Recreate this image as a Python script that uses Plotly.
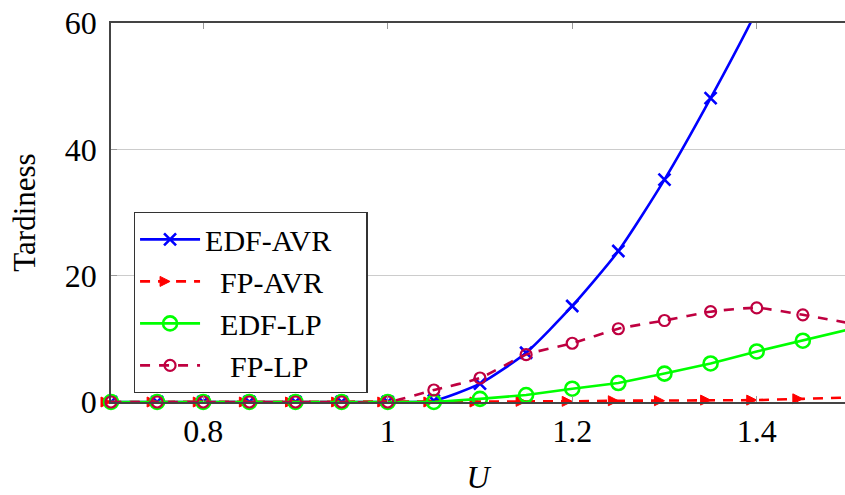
import plotly.graph_objects as go

# Utilization levels
U = [0.70, 0.75, 0.80, 0.85, 0.90, 0.95, 1.00, 1.05, 1.10,
     1.15, 1.20, 1.25, 1.30, 1.35, 1.40, 1.45, 1.50]

# Tardiness per scheduling policy
edf_avr = [0, 0, 0, 0, 0, 0, 0, 0.2, 2.9, 7.8, 15.2, 23.9, 35.2, 48.1, 62.0, 78.0, 95.0]
fp_avr = [0, 0, 0, 0, 0, 0, 0, 0, 0, 0.1, 0.1, 0.2, 0.2, 0.3, 0.3, 0.5, 0.7]
edf_lp = [0, 0, 0, 0, 0, 0, 0, 0, 0.5, 1.1, 2.1, 3.0, 4.5, 6.1, 8.0, 9.7, 11.5]
fp_lp = [0, 0, 0, 0, 0, 0, 0, 1.9, 3.8, 7.5, 9.3, 11.6, 12.9, 14.3, 14.9, 13.8, 12.5]

x_ticks = [0.8, 1.0, 1.2, 1.4]
x_tick_labels = ["0.8", "1", "1.2", "1.4"]
y_ticks = [0, 20, 40, 60]

# Legend labels, padded with typographic spaces so they sit centred in the box
names = {
    "edf_avr": "EDF-AVR\u2003",
    "fp_avr": "\u2002FP-AVR",
    "edf_lp": "\u2002EDF-LP",
    "fp_lp": "\u2002\u2004FP-LP",
}

FONT = "Liberation Serif"
LW = 2.6

fig = go.Figure()

fig.add_trace(go.Scatter(
    x=U, y=edf_avr, name=names["edf_avr"], mode="lines+markers",
    line=dict(color="#0000ff", width=LW, shape="spline", smoothing=0.6),
    marker=dict(symbol="x-thin-open", size=12, color="#0000ff",
                line=dict(color="#0000ff", width=2.6)),
    cliponaxis=True,
))
fig.add_trace(go.Scatter(
    x=U, y=fp_avr, name=names["fp_avr"], mode="lines+markers",
    line=dict(color="#ff0000", width=LW, dash="10px,8px"),
    marker=dict(symbol="arrow-right", size=10, color="#ff0000",
                line=dict(color="#ff0000", width=1)),
    cliponaxis=False,
))
fig.add_trace(go.Scatter(
    x=U, y=edf_lp, name=names["edf_lp"], mode="lines+markers",
    line=dict(color="#00ff00", width=LW),
    marker=dict(symbol="circle-open", size=14, color="#00ff00",
                line=dict(color="#00ff00", width=2.6)),
    cliponaxis=False,
))
fig.add_trace(go.Scatter(
    x=U, y=fp_lp, name=names["fp_lp"], mode="lines+markers",
    line=dict(color="#bf0040", width=LW, dash="10px,9px",
              shape="spline", smoothing=0.6),
    marker=dict(symbol="circle-open", size=11, color="#bf0040",
                line=dict(color="#bf0040", width=2.2)),
    cliponaxis=False,
))

fig.update_layout(
    width=845, height=495,
    margin=dict(l=111, r=0, t=23, b=93),
    paper_bgcolor="white", plot_bgcolor="white",
    font=dict(family=FONT, size=30, color="black"),
    showlegend=True,
    legend=dict(
        x=0.031, y=0.501, xanchor="left", yanchor="top",
        bgcolor="white", bordercolor="#333333", borderwidth=1.3,
        font=dict(family=FONT, size=30, color="black"),
        itemwidth=60, tracegroupgap=0,
    ),
    xaxis=dict(
        range=[0.7, 1.4957], tickvals=x_ticks, ticktext=x_tick_labels,
        showline=True, linecolor="#444444", linewidth=1.5, mirror="ticks",
        ticks="inside", ticklen=6, tickcolor="#999999", tickwidth=1,
        showgrid=False, zeroline=False,
        tickfont=dict(family=FONT, size=32),
        title=dict(text="<i>U</i>", font=dict(family=FONT, size=32), standoff=24),
    ),
    yaxis=dict(
        range=[0, 60], tickvals=y_ticks,
        showline=True, linecolor="#444444", linewidth=1.5,
        ticks="inside", ticklen=6, tickcolor="#999999", tickwidth=1,
        showgrid=True, gridcolor="#cccccc", gridwidth=1, zeroline=False,
        tickfont=dict(family=FONT, size=32), ticklabelstandoff=6,
        title=dict(text="Tardiness", font=dict(family=FONT, size=31), standoff=20),
    ),
)

fig.write_html("out.html")
